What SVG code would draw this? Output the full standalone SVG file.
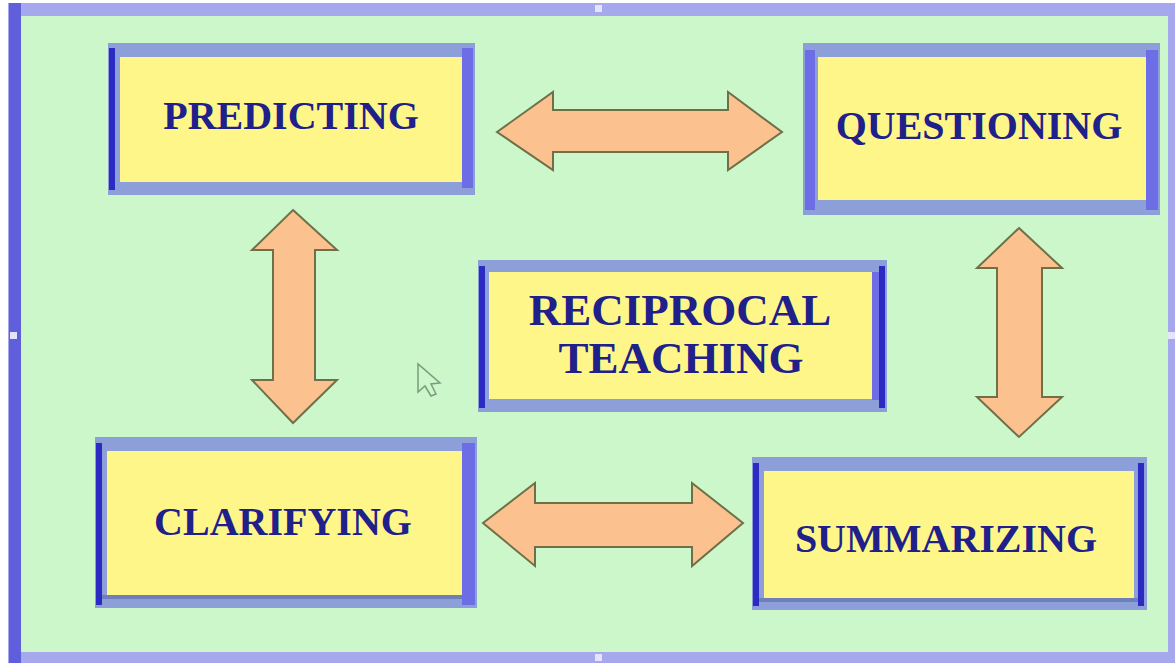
<svg xmlns="http://www.w3.org/2000/svg" width="1175" height="666" viewBox="0 0 1175 666">
  <style>
    .bo { fill: #8d9fd9; }
    .bl { fill: #2b2bc4; }
    .br { fill: #6d6de6; }
    .bb { fill: #6f7fb8; }
    .bi { fill: #fff68a; }
    .lbl { font-family: "Liberation Serif", "Times New Roman", serif; font-weight: bold; font-size: 40px; fill: #20208a; text-anchor: middle; }
    .big { font-size: 45px; }
    .arr { fill: #fbc290; stroke: #6f7048; stroke-width: 2; stroke-linejoin: miter; }
  </style>
  <rect x="0" y="0" width="1175" height="666" fill="#ffffff"/>
  <g id="frame">
    <rect x="8" y="3" width="1167" height="660" fill="#a6a8ee"/>
    <rect x="9" y="3" width="12" height="660" fill="#5f5fdc"/>
    <rect x="21" y="16" width="1147" height="636" fill="#cbf7cb"/>
    <rect x="595" y="5" width="7" height="7" fill="#e4e4ff"/>
    <rect x="595" y="654" width="7" height="7" fill="#e4e4ff"/>
    <rect x="10" y="332" width="7" height="7" fill="#e4e4ff"/>
    <rect x="1168" y="332" width="7" height="7" fill="#e4e4ff"/>
  </g>
  <g id="connectors">
    <polygon class="arr" points="497,132 553,92 553,110 728,110 728,92 782,132 728,170 728,152 553,152 553,170"/>
    <polygon class="arr" points="483,523 535,483 535,503 692,503 692,483 743,523 692,566 692,547 535,547 535,566"/>
    <polygon class="arr" points="293,210 337,250 315,250 315,380 337,380 293,423 252,380 273,380 273,250 252,250"/>
    <polygon class="arr" points="1019,228 1062,268 1042,268 1042,397 1062,397 1019,437 977,397 997,397 997,268 977,268"/>
  </g>
  <g id="predicting">
    <rect class="bo" x="108" y="43" width="367" height="152"/>
    <rect class="bl" x="109" y="48" width="6" height="142"/>
    <rect class="br" x="462" y="48" width="11" height="140"/>
    <rect class="bi" x="120" y="57" width="342" height="125"/>
    <text class="lbl" x="291" y="129">PREDICTING</text>
  </g>
  <g id="questioning">
    <rect class="bo" x="803" y="43" width="357" height="172"/>
    <rect class="br" x="805" y="50" width="10" height="160"/>
    <rect class="br" x="1146" y="50" width="12" height="160"/>
    <rect class="bi" x="818" y="57" width="328" height="143"/>
    <text class="lbl" x="979" y="139">QUESTIONING</text>
  </g>
  <g id="reciprocal">
    <rect class="bo" x="478" y="260" width="409" height="152"/>
    <rect class="bl" x="479" y="266" width="6" height="142"/>
    <rect class="bl" x="879" y="266" width="6" height="142"/>
    <rect class="br" x="872" y="272" width="7" height="128"/>
    <rect class="bi" x="489" y="272" width="383" height="127"/>
    <text class="lbl big" x="680" y="325">RECIPROCAL</text>
    <text class="lbl big" x="681" y="373">TEACHING</text>
  </g>
  <g id="clarifying">
    <rect class="bo" x="95" y="437" width="382" height="171"/>
    <rect class="bl" x="96" y="443" width="6" height="162"/>
    <rect class="br" x="462" y="443" width="13" height="162"/>
    <rect class="bb" x="102" y="595" width="360" height="4"/>
    <rect class="bi" x="107" y="451" width="355" height="144"/>
    <text class="lbl" x="283" y="535">CLARIFYING</text>
  </g>
  <g id="summarizing">
    <rect class="bo" x="752" y="457" width="395" height="153"/>
    <rect class="bl" x="753" y="463" width="6" height="143"/>
    <rect class="bl" x="1138" y="463" width="6" height="143"/>
    <rect class="bb" x="759" y="598" width="379" height="4"/>
    <rect class="bi" x="764" y="471" width="370" height="127"/>
    <text class="lbl" x="946" y="552">SUMMARIZING</text>
  </g>
  <g id="cursor">
    <path d="M418,364 L418,392 L425,386 L431,396 L436,394 L431,384 L440,383 Z" fill="none" stroke="#7e9a7e" stroke-width="1.5"/>
  </g>
</svg>
